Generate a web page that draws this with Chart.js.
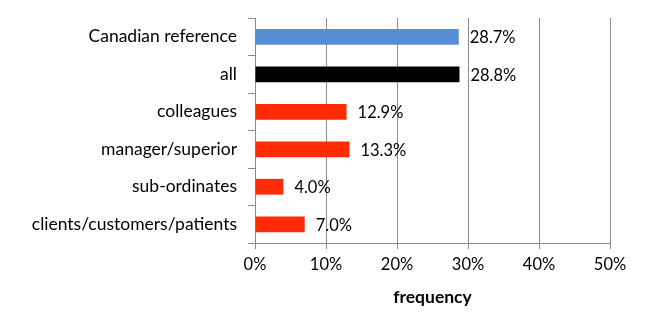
<!DOCTYPE html>
<html>
<head>
<meta charset="utf-8">
<script src="https://cdn.jsdelivr.net/npm/chart.js@4"></script>
<style>
  html, body { margin: 0; padding: 0; background: #fff; }
  #wrap { width: 668px; height: 331px; }
</style>
</head>
<body>
<div id="wrap"><canvas id="c" width="668" height="331"></canvas></div>
<script>
// Groups and the share reporting each
const categories = ['Canadian reference', 'all', 'colleagues', 'manager/superior', 'sub-ordinates', 'clients/customers/patients'];
const frequency = [28.7, 28.8, 12.9, 13.3, 4.0, 7.0];
const barColors = ['#558ED5', '#000000', '#FF2B05', '#FF2B05', '#FF2B05', '#FF2B05'];
const xTicks = [0, 10, 20, 30, 40, 50];

const FONT = 'Lato, "Open Sans", sans-serif';
const GRID = '#8C8C8C';

// Writes each bar's value just past its end
const valueLabels = {
  id: 'valueLabels',
  afterDatasetsDraw(chart) {
    const ctx = chart.ctx;
    const meta = chart.getDatasetMeta(0);
    ctx.save();
    ctx.font = '16.5px ' + FONT;
    ctx.fillStyle = '#000';
    ctx.textAlign = 'left';
    ctx.textBaseline = 'middle';
    meta.data.forEach((bar, i) => {
      ctx.fillText(frequency[i].toFixed(1) + '%', bar.x + 11, bar.y + 1);
    });
    ctx.restore();
  }
};

new Chart(document.getElementById('c'), {
  type: 'bar',
  data: {
    labels: categories,
    datasets: [{
      data: frequency,
      backgroundColor: barColors,
      borderWidth: 0,
      categoryPercentage: 1,
      barPercentage: 0.42
    }]
  },
  options: {
    indexAxis: 'y',
    responsive: false,
    animation: false,
    layout: { padding: { left: 0, right: 58, top: 18, bottom: 0 } },
    plugins: { legend: { display: false }, tooltip: { enabled: false } },
    scales: {
      x: {
        min: 0, max: 50,
        afterBuildTicks(scale) { scale.ticks = xTicks.map(v => ({ value: v })); },
        afterFit(scale) { scale.height = 88; },
        grid: { color: GRID, lineWidth: 1, tickLength: 6, drawTicks: true },
        border: { color: GRID, width: 1 },
        ticks: {
          color: '#000',
          font: { family: FONT, size: 16.5 },
          padding: 6,
          callback: v => v + '%'
        },
        title: {
          display: true,
          text: 'frequency',
          color: '#000',
          font: { family: FONT, size: 17.5, weight: 'bold' },
          padding: { top: 6, bottom: 23 }
        }
      },
      y: {
        afterFit(scale) { scale.width = 255; scale.paddingTop = 0; scale.paddingBottom = 0; },
        grid: { drawOnChartArea: false, drawTicks: true, tickLength: 7, color: GRID, offset: true },
        border: { color: GRID, width: 1 },
        ticks: {
          color: '#000',
          font: { family: FONT, size: 17.5 },
          padding: 11,
          autoSkip: false
        }
      }
    }
  },
  plugins: [valueLabels]
});
</script>
</body>
</html>
